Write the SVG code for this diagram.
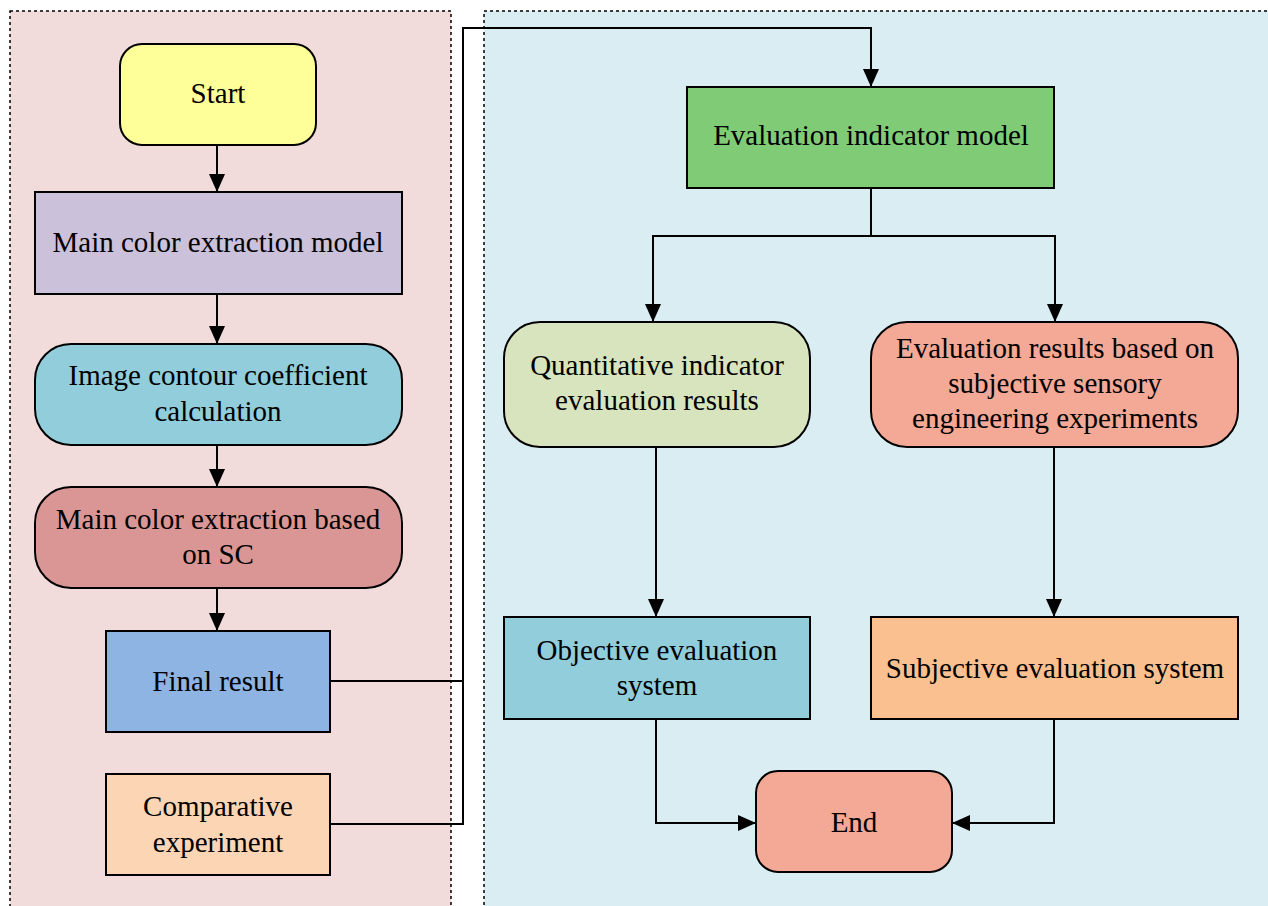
<svg xmlns="http://www.w3.org/2000/svg" width="1268" height="906" viewBox="0 0 1268 906">
  <defs>
    <marker id="arrow" viewBox="0 0 18 16" refX="18" refY="8" markerWidth="18" markerHeight="16" markerUnits="userSpaceOnUse" orient="auto">
      <path d="M0,0 L18,8 L0,16 Z" fill="#000"/>
    </marker>
  </defs>
  <style>
    .panel { stroke: #000; stroke-width: 1.5; stroke-dasharray: 3 3; }
    .node { stroke: #000; stroke-width: 2; }
    .label { font-family: "Liberation Serif", "Times New Roman", serif; font-size: 29px; fill: #000; text-anchor: middle; }
    .conn { fill: none; stroke: #000; stroke-width: 2; }
  </style>

  <rect width="1268" height="906" fill="#ffffff"/>

  <!-- background panels -->
  <g id="panel-left">
    <rect class="panel" x="10" y="11" width="441" height="910" fill="#f1dcdb"/>
  </g>
  <g id="panel-right">
    <rect class="panel" x="484" y="11" width="800" height="910" fill="#daedf3"/>
  </g>

  <!-- connectors -->
  <g id="connectors">
    <path class="conn" d="M217,145 V192" marker-end="url(#arrow)"/>
    <path class="conn" d="M217,294 V344" marker-end="url(#arrow)"/>
    <path class="conn" d="M217,445 V487" marker-end="url(#arrow)"/>
    <path class="conn" d="M217,588 V631" marker-end="url(#arrow)"/>
    <path class="conn" d="M330,681 H463 V28 H871 V87" marker-end="url(#arrow)"/>
    <path class="conn" d="M330,824 H463 V681"/>
    <path class="conn" d="M871,188 V236 H653 V322" marker-end="url(#arrow)"/>
    <path class="conn" d="M871,236 H1055 V322" marker-end="url(#arrow)"/>
    <path class="conn" d="M656,447 V617" marker-end="url(#arrow)"/>
    <path class="conn" d="M1054,447 V617" marker-end="url(#arrow)"/>
    <path class="conn" d="M656,719 V823 H756" marker-end="url(#arrow)"/>
    <path class="conn" d="M1054,719 V823 H952" marker-end="url(#arrow)"/>
  </g>

  <!-- left column -->
  <g id="start">
    <rect class="node" x="120" y="44" width="196" height="101" rx="22" fill="#ffff99"/>
    <text class="label" x="218" y="103">Start</text>
  </g>
  <g id="main-color-model">
    <rect class="node" x="35" y="192" width="367" height="102" fill="#ccc1da"/>
    <text class="label" x="218" y="252">Main color extraction model</text>
  </g>
  <g id="contour-coefficient">
    <rect class="node" x="35" y="344" width="367" height="101" rx="36" fill="#92cddc"/>
    <text class="label" x="218" y="385">Image contour coefficient</text>
    <text class="label" x="218" y="421">calculation</text>
  </g>
  <g id="extraction-sc">
    <rect class="node" x="35" y="487" width="367" height="101" rx="36" fill="#d99694"/>
    <text class="label" x="218" y="529">Main color extraction based</text>
    <text class="label" x="218" y="564">on SC</text>
  </g>
  <g id="final-result">
    <rect class="node" x="106" y="631" width="224" height="101" fill="#8eb4e3"/>
    <text class="label" x="218" y="691">Final result</text>
  </g>
  <g id="comparative">
    <rect class="node" x="106" y="774" width="224" height="101" fill="#fcd5b5"/>
    <text class="label" x="218" y="816">Comparative</text>
    <text class="label" x="218" y="852">experiment</text>
  </g>

  <!-- right column -->
  <g id="indicator-model">
    <rect class="node" x="687" y="87" width="367" height="101" fill="#80cc76"/>
    <text class="label" x="871" y="145">Evaluation indicator model</text>
  </g>
  <g id="quantitative">
    <rect class="node" x="504" y="322" width="306" height="125" rx="36" fill="#d7e4bd"/>
    <text class="label" x="657" y="375">Quantitative indicator</text>
    <text class="label" x="657" y="410">evaluation results</text>
  </g>
  <g id="sensory-results">
    <rect class="node" x="871" y="322" width="367" height="125" rx="36" fill="#f4a896"/>
    <text class="label" x="1055" y="358">Evaluation results based on</text>
    <text class="label" x="1055" y="393">subjective sensory</text>
    <text class="label" x="1055" y="428">engineering experiments</text>
  </g>
  <g id="objective-system">
    <rect class="node" x="504" y="617" width="306" height="102" fill="#92cddc"/>
    <text class="label" x="657" y="660">Objective evaluation</text>
    <text class="label" x="657" y="695">system</text>
  </g>
  <g id="subjective-system">
    <rect class="node" x="871" y="617" width="367" height="102" fill="#fac090"/>
    <text class="label" x="1055" y="678">Subjective evaluation system</text>
  </g>
  <g id="end">
    <rect class="node" x="756" y="771" width="196" height="101" rx="22" fill="#f4a896"/>
    <text class="label" x="854" y="832">End</text>
  </g>
</svg>
